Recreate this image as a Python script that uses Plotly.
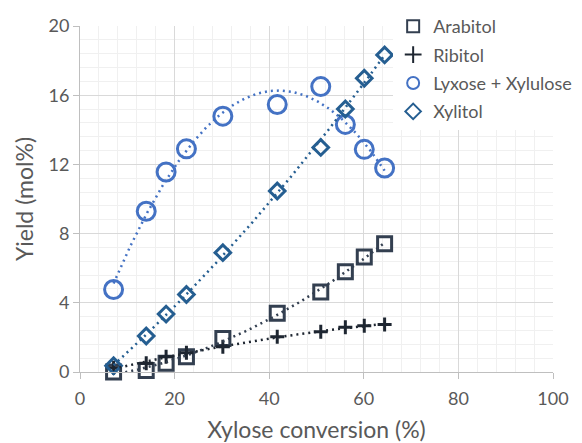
import numpy as np
import plotly.graph_objects as go

# Data
conversion = [7.1, 14.0, 18.2, 22.5, 30.2, 41.7, 50.9, 56.1, 60.1, 64.4]
arabitol = [0.0, 0.08, 0.5, 0.88, 1.94, 3.39, 4.63, 5.79, 6.65, 7.42]
ribitol = [0.25, 0.5, 0.88, 1.11, 1.46, 2.04, 2.33, 2.58, 2.67, 2.75]
lyxose_xylulose = [4.77, 9.29, 11.56, 12.9, 14.79, 15.46, 16.5, 14.31, 12.87, 11.79]
xylitol = [0.36, 2.08, 3.35, 4.48, 6.9, 10.46, 12.98, 15.2, 16.98, 18.33]

x_ticks = [0, 20, 40, 60, 80, 100]
y_ticks = [0, 4, 8, 12, 16, 20]

FONT = "Lato"
TXT = "#595959"

series = [
    ("Arabitol", arabitol, "square-open", 14, 3, "#333F50"),
    ("Ribitol", ribitol, "cross-thin-open", 10, 3, "#1E2631"),
    ("Lyxose + Xylulose", lyxose_xylulose, "circle-open", 18, 3, "#4472C4"),
    ("Xylitol", xylitol, "diamond-open", 12, 3, "#255E91"),
]

fig = go.Figure()
for i, (name, vals, sym, size, lw, col) in enumerate(series):
    fig.add_trace(go.Scatter(
        x=conversion, y=vals, mode="markers", name=name,
        legendgroup=f"g{i}",
        marker=dict(symbol=sym, size=size, color=col, line=dict(width=lw, color=col)),
        cliponaxis=False,
    ))

# polynomial (order 2) trendlines, as in the original
xs = np.linspace(min(conversion), max(conversion), 200)
for i, (name, vals, sym, size, lw, col) in enumerate(series):
    c = np.polyfit(conversion, vals, 2)
    fig.add_trace(go.Scatter(
        x=xs, y=np.polyval(c, xs), mode="lines", showlegend=False,
        line=dict(color=col, width=2.5, dash="2px,4px"), hoverinfo="skip",
    ))

axis_common = dict(
    showline=True, linecolor="#BFBFBF", linewidth=1,
    ticks="outside", ticklen=6, tickcolor="#BFBFBF", tickwidth=1,
    showgrid=True, gridcolor="#D9D9D9", gridwidth=1,
    zeroline=False, automargin=False,
    tickfont=dict(family=FONT, size=18, color=TXT),
    mirror=False,
)

# the page body has an 8px margin, so the figure is 8px smaller than the window
fig.update_layout(
    width=574, height=435,
    margin=dict(l=72, r=29, t=18, b=71, autoexpand=False),
    paper_bgcolor="white", plot_bgcolor="white",
    font=dict(family=FONT, color=TXT),
    xaxis=dict(
        range=[0, 100], tickmode="array", tickvals=x_ticks,
        minor=dict(dtick=4, showgrid=True, gridcolor="#F0F0F0", ticks=""),
        title=dict(text="Xylose conversion (%)", font=dict(family=FONT, size=23, color=TXT), standoff=16),
        ticklabelstandoff=4,
        **axis_common,
    ),
    yaxis=dict(
        range=[0, 20], tickmode="array", tickvals=y_ticks,
        minor=dict(dtick=0.8, showgrid=True, gridcolor="#F0F0F0", ticks=""),
        title=dict(text="Yield (mol%)", font=dict(family=FONT, size=23, color=TXT), standoff=8),
        **axis_common,
    ),
    legend=dict(
        xref="container", yref="container",
        x=0.671, y=1.0, xanchor="left", yanchor="top",
        bgcolor="white", borderwidth=0,
        font=dict(family=FONT, size=18, color=TXT),
        itemsizing="constant", traceorder="grouped", tracegroupgap=2,
        itemwidth=30,
    ),
)

fig.write_html("out.html")
